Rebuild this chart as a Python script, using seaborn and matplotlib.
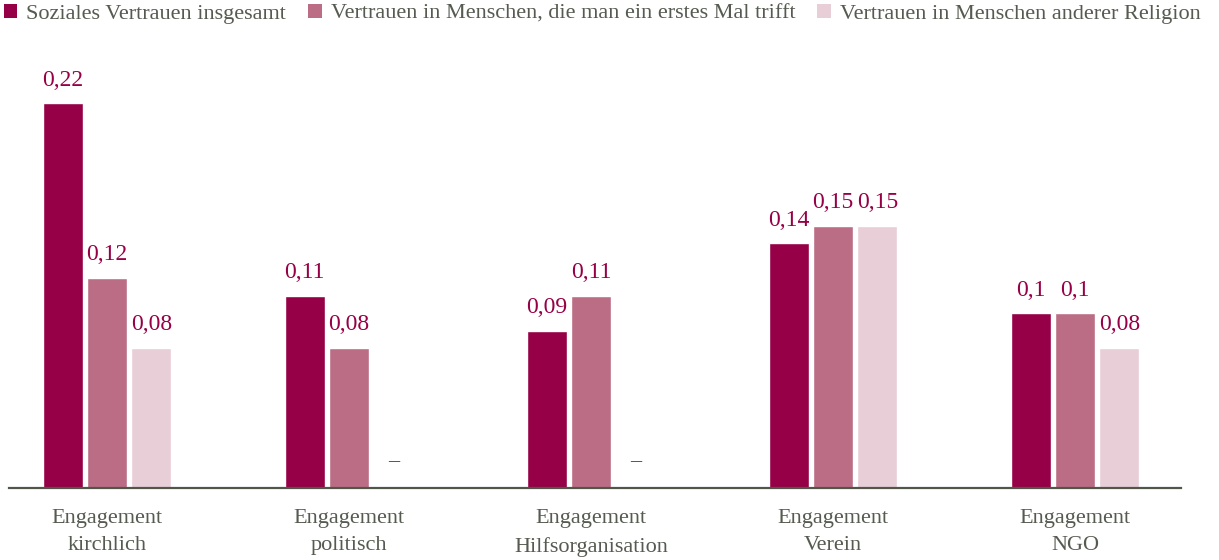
import numpy as np
import pandas as pd
import matplotlib
matplotlib.use("Agg")
import matplotlib.pyplot as plt
from matplotlib.patches import Patch
import seaborn as sns

# Data
categories = ["Engagement\nkirchlich", "Engagement\npolitisch", "Engagement\nHilfsorganisation",
              "Engagement\nVerein", "Engagement\nNGO"]
series = ["Soziales Vertrauen insgesamt",
          "Vertrauen in Menschen, die man ein erstes Mal trifft",
          "Vertrauen in Menschen anderer Religion"]
soziales = [0.22, 0.11, 0.09, 0.14, 0.10]
erstes_mal = [0.12, 0.08, 0.11, 0.15, 0.10]
religion = [0.08, np.nan, np.nan, 0.15, 0.08]

colors = ["#960046", "#bc6d86", "#e8ced7"]
text_gray = "#555b50"
label_red = "#960046"

sns.set_theme(style="white")
plt.rcParams["font.family"] = ["Liberation Serif", "DejaVu Serif"]

df = pd.DataFrame({
    "Kategorie": categories * 3,
    "Reihe": sum([[s] * len(categories) for s in series], []),
    "Wert": soziales + erstes_mal + religion,
})

W, H = 1219, 560
fig = plt.figure(figsize=(W / 100, H / 100), dpi=100)
ax_left, ax_right = 9, 1181
ax_bottom = H - 488
ylim = (0, 0.25)
ax_height = 0.25 * 1750
ax = fig.add_axes([ax_left / W, ax_bottom / H, (ax_right - ax_left) / W, ax_height / H])

group_width = 0.55
sns.barplot(data=df, x="Kategorie", y="Wert", hue="Reihe", order=categories,
            hue_order=series, palette=colors, width=group_width, gap=0.1,
            saturation=1, legend=False, ax=ax)

ax.set_ylim(*ylim)
ax.set_xlim(-0.405, 4.438)
ax.set_xlabel("")
ax.set_ylabel("")
ax.set_yticks([])
ax.tick_params(axis="x", length=0, pad=15, labelsize=16, labelcolor=text_gray)
for lab in ax.get_xticklabels():
    lab.set_linespacing(1.6)
for side in ["left", "right", "top"]:
    ax.spines[side].set_visible(False)
ax.spines["bottom"].set_color("#50574a")
ax.spines["bottom"].set_linewidth(1.6)


def fmt(v):
    return f"{v:g}".replace(".", ",")


# Value labels on each bar
for container in ax.containers:
    for bar in container:
        h = bar.get_height()
        if np.isnan(h):
            continue
        ax.annotate(fmt(h), (bar.get_x() + bar.get_width() / 2, h),
                    xytext=(0, 9), textcoords="offset points",
                    ha="center", va="bottom", fontsize=17, color=label_red)

# Dash for missing values
slot = group_width / len(series)
for j, vals in enumerate([soziales, erstes_mal, religion]):
    for i, v in enumerate(vals):
        if np.isnan(v):
            x = i + (j - (len(series) - 1) / 2) * slot
            ax.annotate("–", (x, 0), xytext=(0, 19), textcoords="offset points",
                        ha="center", va="center", fontsize=16, color=label_red)

handles = [Patch(facecolor=c, edgecolor="none") for c in colors]
fig.legend(handles, series, loc="upper left", bbox_to_anchor=(4 / W, 1 - 4 / H),
           ncol=3, frameon=False, fontsize=16, labelcolor=text_gray,
           handlelength=0.6, handleheight=0.6, handletextpad=0.4,
           columnspacing=1.0, borderaxespad=0, borderpad=0)

fig.savefig("out.png", dpi=100)
